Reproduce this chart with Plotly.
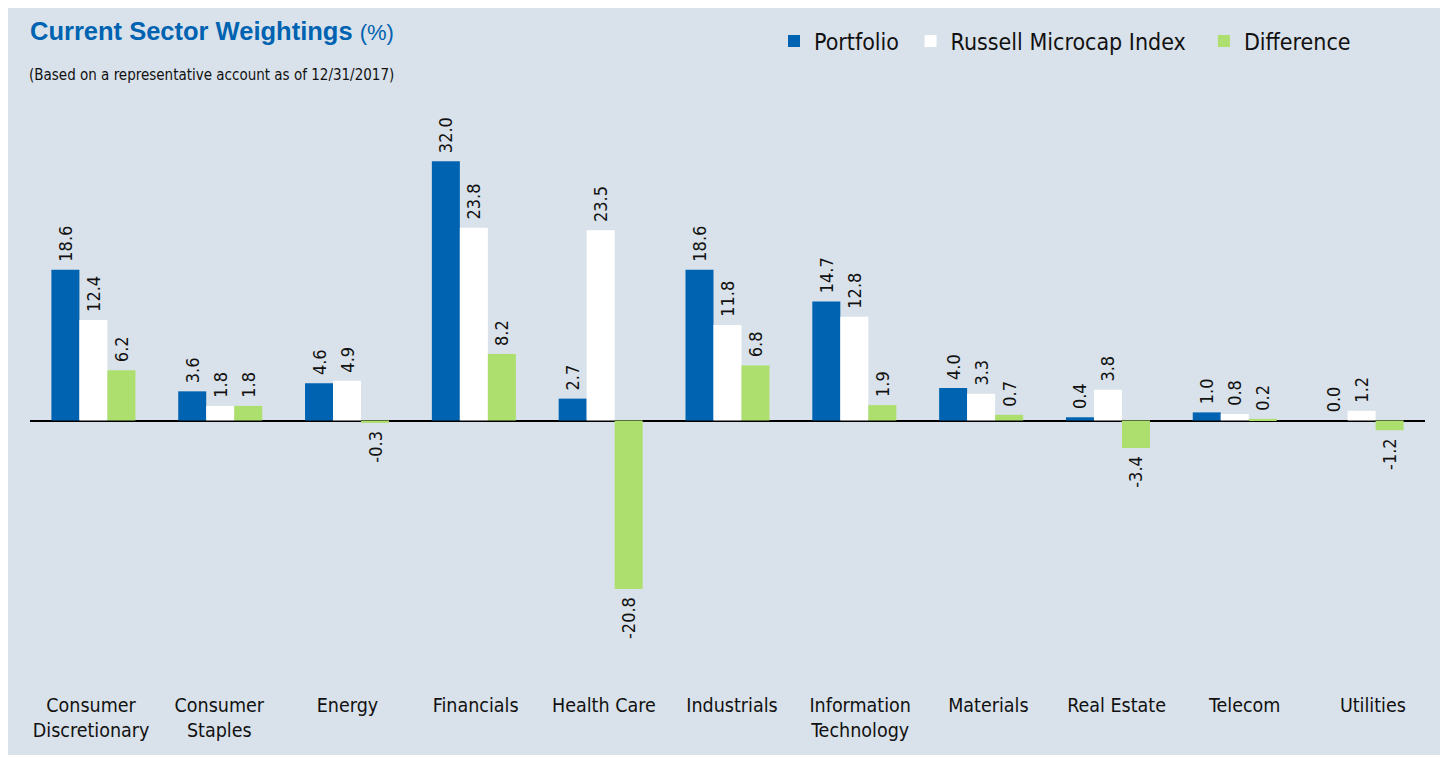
import plotly.graph_objects as go

categories = ["Consumer<br>Discretionary", "Consumer<br>Staples", "Energy", "Financials",
              "Health Care", "Industrials", "Information<br>Technology", "Materials",
              "Real Estate", "Telecom", "Utilities"]
portfolio = [18.6, 3.6, 4.6, 32.0, 2.7, 18.6, 14.7, 4.0, 0.4, 1.0, 0.0]
russell = [12.4, 1.8, 4.9, 23.8, 23.5, 11.8, 12.8, 3.3, 3.8, 0.8, 1.2]
difference = [6.2, 1.8, -0.3, 8.2, -20.8, 6.8, 1.9, 0.7, -3.4, 0.2, -1.2]
series_names = ["Portfolio", "Russell Microcap Index", "Difference"]

colors = ["#0063b1", "#ffffff", "#addf6e"]
series = list(zip(series_names, [portfolio, russell, difference], colors))
legend_pad = ["\u00a0", "\u00a0\u00a0", ""]

COND = "DejaVu Sans Condensed, Liberation Sans, sans-serif"
OFF = 8  # page body margin
W, H = 1436, 747
# outer plot area (page px 27..1437) used by the category-label axis
ML, MR, MT, MB = 27 - OFF, W - (1437 - OFF), 95 - OFF, 67
plot_h = H - MT - MB
plot_w = W - ML - MR

def px(xp):
    return (xp - OFF - ML) / plot_w

def py(yp):
    return (H - MB - (yp - OFF)) / plot_h

bar_domain = [px(30), px(1425)]

def label(v):
    s = f"{v:.1f}"
    return s + "\u00a0" if v < 0 else "\u00a0" + s

fig = go.Figure()
for (name, vals, col), pad in zip(series, legend_pad):
    fig.add_trace(go.Bar(
        x=categories, y=vals, name=name + pad,
        marker=dict(color=col, line=dict(width=0)),
        text=[label(v) for v in vals],
        textposition="outside", textangle=-90,
        constraintext="none", cliponaxis=False,
        textfont=dict(family=COND, size=18, color="#111111"),
    ))

# invisible carrier for the category labels axis
fig.add_trace(go.Scatter(x=categories, y=[0] * len(categories), xaxis="x2", yaxis="y2",
                         mode="markers", marker=dict(opacity=0),
                         showlegend=False, hoverinfo="skip"))

zero_px = 420.5 - OFF
ppu = 8.1
ymax = (zero_px - MT) / ppu
ymin = -(H - MB - zero_px) / ppu

fig.update_layout(
    width=W, height=H,
    margin=dict(l=ML, r=MR, t=MT, b=MB),
    paper_bgcolor="#d9e2ea",
    plot_bgcolor="rgba(0,0,0,0)",
    barmode="group", bargap=0.3375, bargroupgap=0,
    showlegend=True,
    legend=dict(orientation="h", xref="container", yref="container",
                x=(774 - OFF) / W, y=1 - (41 - OFF) / H, xanchor="left", yanchor="middle",
                font=dict(family=COND, size=23, color="#111111"),
                bgcolor="rgba(0,0,0,0)", traceorder="normal"),
    xaxis=dict(domain=bar_domain, showgrid=False, showline=False, ticks="",
               showticklabels=False, categoryorder="array", categoryarray=categories),
    xaxis2=dict(domain=[0, 1], anchor="y2", type="category", categoryorder="array",
                categoryarray=categories, range=[-0.5, len(categories) - 0.5],
                showgrid=False, showline=False, zeroline=False, ticks="",
                ticklabelstandoff=3,
                tickfont=dict(family=COND, size=19.5, color="#111111")),
    yaxis=dict(range=[ymin, ymax], showgrid=False, showticklabels=False,
               zeroline=True, zerolinecolor="#000000", zerolinewidth=1.5),
    yaxis2=dict(range=[ymin, ymax], overlaying="y", anchor="x2", showgrid=False,
                showticklabels=False, zeroline=False, showline=False),
    font=dict(family=COND),
)

fig.add_annotation(xref="paper", yref="paper", x=px(28), y=py(31),
                   xanchor="left", yanchor="middle", showarrow=False,
                   text="<b>Current Sector Weightings</b> <span style='font-size:22px'>(%)</span>",
                   font=dict(family="Liberation Sans", size=25.5, color="#0063b1"))
fig.add_annotation(xref="paper", yref="paper", x=px(27), y=py(75),
                   xanchor="left", yanchor="middle", showarrow=False,
                   text="(Based on a representative account as of 12/31/2017)",
                   font=dict(family=COND, size=15, color="#111111"))

fig.write_html("out.html")
